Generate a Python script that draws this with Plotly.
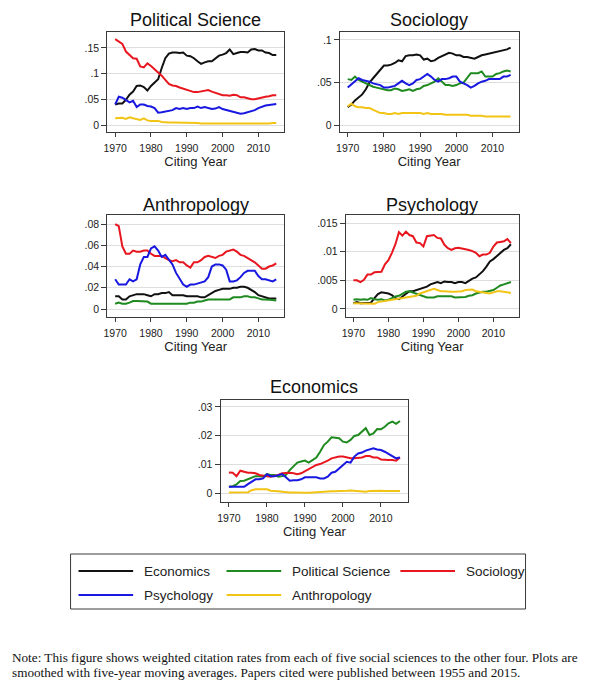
import plotly.graph_objects as go

W, H = 607, 680

years = list(range(1970, 2016))
x_ticks = [1970, 1980, 1990, 2000, 2010]

series_names = ["Economics", "Political Science", "Sociology", "Psychology", "Anthropology"]
series_colors = ["#111111", "#1f8a1f", "#e8161e", "#1818e0", "#f2c416"]

# ---- Political Science panel (citations to the other four) ----
ps_econ = [.040, .042, .042, .049, .059, .065, .076, .077, .074, .067,
           .076, .083, .089, .111, .130, .139, .141, .141, .140, .141,
           .135, .134, .130, .124, .119, .122, .124, .124, .130, .135,
           .137, .140, .147, .138, .140, .142, .142, .141, .147, .148,
           .145, .145, .141, .140, .136, .136]
ps_soc = [.167, .163, .158, .143, .137, .130, .129, .114, .112, .120,
          .115, .109, .102, .096, .088, .080, .077, .076, .073, .071,
          .068, .066, .064, .064, .065, .067, .068, .065, .063, .061,
          .058, .058, .057, .059, .058, .054, .054, .052, .050, .050,
          .052, .054, .055, .056, .058, .058]
ps_psy = [.040, .055, .053, .049, .044, .047, .035, .040, .040, .037,
          .036, .033, .024, .025, .026, .027, .029, .033, .031, .033,
          .031, .033, .033, .036, .033, .035, .033, .031, .032, .035,
          .031, .029, .028, .026, .023, .022, .023, .025, .026, .029,
          .033, .036, .038, .039, .040, .041]
ps_ant = [.013, .014, .014, .012, .015, .013, .011, .010, .013, .009,
          .008, .008, .008, .006, .005, .005, .005, .005, .004, .004,
          .004, .004, .004, .004, .003, .003, .003, .003, .003, .003,
          .003, .003, .003, .003, .002, .002, .002, .002, .002, .002,
          .002, .002, .003, .003, .004, .004]

# ---- Sociology panel ----
so_econ = [.021, .024, .029, .033, .036, .042, .050, .055, .060, .065,
           .070, .070, .071, .073, .076, .075, .081, .082, .082, .083,
           .082, .077, .078, .075, .076, .079, .081, .083, .085, .084,
           .082, .082, .080, .080, .079, .078, .080, .082, .083, .084,
           .085, .086, .087, .088, .089, .091]
so_pol = [.054, .053, .057, .053, .051, .049, .047, .045, .044, .043,
          .042, .041, .041, .043, .042, .040, .041, .042, .040, .042,
          .043, .046, .047, .049, .051, .055, .051, .047, .047, .046,
          .047, .049, .050, .055, .061, .061, .061, .063, .057, .057,
          .057, .060, .061, .063, .064, .063]
so_psy = [.044, .048, .052, .055, .053, .052, .051, .049, .048, .047,
          .044, .044, .045, .046, .049, .052, .049, .047, .049, .053,
          .054, .057, .060, .057, .053, .051, .054, .054, .055, .057,
          .057, .051, .049, .047, .044, .046, .049, .051, .052, .054,
          .054, .054, .054, .057, .057, .059]
so_ant = [.022, .025, .022, .021, .021, .020, .020, .018, .016, .014,
          .014, .013, .013, .014, .013, .014, .014, .014, .014, .014,
          .014, .013, .014, .013, .013, .013, .013, .012, .012, .012,
          .012, .012, .012, .012, .011, .011, .011, .011, .010, .010,
          .010, .010, .010, .010, .010, .010]

# ---- Anthropology panel ----
an_econ = [.012, .012, .009, .009, .012, .013, .014, .014, .014, .013,
           .012, .014, .014, .015, .015, .016, .013, .013, .013, .013,
           .012, .012, .012, .012, .011, .011, .013, .015, .017, .018,
           .019, .019, .019, .020, .020, .021, .021, .020, .018, .016,
           .013, .012, .011, .010, .010, .010]
an_pol = [.005, .006, .005, .005, .006, .0075, .0075, .0075, .0073, .007,
          .005, .005, .005, .005, .005, .0055, .005, .005, .0055, .005,
          .005, .006, .006, .007, .007, .008, .009, .009, .009, .009,
          .009, .0085, .009, .011, .011, .011, .012, .012, .011, .011,
          .010, .009, .009, .009, .0085, .008]
an_soc = [.080, .078, .059, .052, .052, .055, .054, .054, .055, .055,
          .052, .050, .050, .050, .048, .046, .045, .046, .044, .044,
          .041, .039, .044, .044, .046, .049, .050, .049, .048, .050,
          .051, .054, .055, .056, .054, .051, .050, .048, .046, .044,
          .041, .038, .038, .040, .041, .043]
an_psy = [.028, .023, .023, .023, .028, .026, .028, .042, .049, .049,
          .057, .059, .055, .049, .051, .047, .042, .034, .028, .023,
          .021, .023, .023, .024, .025, .026, .030, .040, .042, .042,
          .041, .037, .026, .026, .027, .030, .034, .036, .036, .036,
          .031, .028, .028, .027, .026, .028]

# ---- Psychology panel ----
py_econ = [.0010, .0012, .0010, .0010, .0011, .0011, .0019, .0026, .0029, .0028,
           .0027, .0024, .0019, .0017, .0022, .0027, .0031, .0031, .0033, .0035,
           .0036, .0039, .0043, .0045, .0047, .0045, .0048, .0047, .0047, .0045,
           .0047, .0047, .0045, .0049, .0053, .0055, .0060, .0066, .0074, .0083,
           .0087, .0092, .0098, .0103, .0106, .0113]
py_pol = [.0016, .0017, .0016, .0017, .0016, .0019, .0017, .0016, .0017, .0015,
          .0016, .0019, .0022, .0023, .0026, .0030, .0031, .0029, .0027, .0024,
          .0022, .0020, .0020, .0020, .0022, .0022, .0023, .0023, .0022, .0020,
          .0020, .0020, .0021, .0023, .0024, .0027, .0029, .0030, .0030, .0031,
          .0033, .0037, .0041, .0043, .0045, .0047]
py_soc = [.0050, .0050, .0047, .0051, .0060, .0060, .0064, .0064, .0065, .0078,
          .0085, .0098, .0113, .0134, .0128, .0135, .0129, .0127, .0116, .0115,
          .0109, .0127, .0128, .0129, .0124, .0123, .0112, .0106, .0103, .0106,
          .0107, .0106, .0105, .0103, .0101, .0098, .0092, .0095, .0095, .0098,
          .0109, .0116, .0117, .0118, .0122, .0115]
py_ant = [.0010, .0010, .0009, .0009, .0010, .0009, .0009, .0012, .0013, .0014,
          .0016, .0017, .0017, .0019, .0019, .0020, .0021, .0023, .0023, .0027,
          .0029, .0031, .0033, .0035, .0033, .0031, .0031, .0030, .0030, .0030,
          .0030, .0031, .0033, .0033, .0034, .0031, .0030, .0029, .0029, .0027,
          .0029, .0031, .0031, .0030, .0029, .0028]

# ---- Economics panel ----
ec_pol = [.0022, .0024, .0030, .0042, .0043, .0048, .0055, .0059, .0059, .0057,
          .0066, .0063, .0063, .0057, .0059, .0063, .0080, .0092, .0106, .0110,
          .0113, .0106, .0115, .0124, .0144, .0167, .0179, .0194, .0193, .0191,
          .0179, .0176, .0185, .0199, .0202, .0214, .0226, .0202, .0208, .0223,
          .0222, .0231, .0243, .0249, .0241, .0251]
ec_soc = [.0072, .0071, .0059, .0078, .0074, .0071, .0071, .0069, .0063, .0060,
          .0059, .0057, .0059, .0063, .0069, .0071, .0071, .0069, .0066, .0069,
          .0077, .0083, .0092, .0098, .0101, .0106, .0113, .0121, .0124, .0127,
          .0127, .0124, .0121, .0121, .0123, .0124, .0129, .0129, .0124, .0124,
          .0117, .0115, .0115, .0115, .0113, .0124]
ec_psy = [.0022, .0022, .0020, .0020, .0022, .0031, .0040, .0048, .0048, .0051,
          .0066, .0059, .0059, .0063, .0066, .0055, .0043, .0045, .0045, .0048,
          .0055, .0055, .0055, .0055, .0051, .0051, .0057, .0071, .0074, .0086,
          .0098, .0109, .0106, .0127, .0138, .0141, .0148, .0152, .0156, .0152,
          .0150, .0144, .0136, .0129, .0121, .0124]
ec_ant = [.0002, .0002, .0002, .0002, .0003, .0003, .0010, .0013, .0013, .0013,
          .0013, .0008, .0006, .0006, .0005, .0003, .0002, .0002, .0001, .0001,
          .0001, .0001, .0002, .0002, .0003, .0006, .0006, .0006, .0006, .0006,
          .0006, .0008, .0009, .0008, .0007, .0006, .0005, .0007, .0008, .0008,
          .0008, .0007, .0007, .0006, .0007, .0007]

# y tick values / labels per panel
ps_yticks, ps_ylabels = [0, .05, .1, .15], ["0", ".05", ".1", ".15"]
so_yticks, so_ylabels = [0, .05, .1], ["0", ".05", ".1"]
an_yticks, an_ylabels = [0, .02, .04, .06, .08], ["0", ".02", ".04", ".06", ".08"]
py_yticks, py_ylabels = [0, .005, .01, .015], ["0", ".005", ".01", ".015"]
ec_yticks, ec_ylabels = [0, .01, .02, .03], ["0", ".01", ".02", ".03"]

note_lines = [
    "Note: This figure shows weighted citation rates from each of five social sciences to the other four. Plots are",
    "smoothed with five-year moving averages. Papers cited were published between 1955 and 2015.",
]

# ---------------- layout helpers (pixel boxes -> paper) ----------------
def px_x(v):
    return v / W

def px_y(v):
    return 1 - v / H

panels = [
    dict(title="Political Science", box=(104, 282, 32, 132), yr=(-0.0136, 0.181),
         yt=ps_yticks, yl=ps_ylabels, title_y=20,
         data={"Economics": ps_econ, "Sociology": ps_soc, "Psychology": ps_psy, "Anthropology": ps_ant}),
    dict(title="Sociology", box=(338, 518, 32, 132), yr=(-0.0082, 0.1094),
         yt=so_yticks, yl=so_ylabels, title_y=20,
         data={"Economics": so_econ, "Political Science": so_pol, "Psychology": so_psy, "Anthropology": so_ant}),
    dict(title="Anthropology", box=(104, 282, 215, 317), yr=(-0.0075, 0.0885),
         yt=an_yticks, yl=an_ylabels, title_y=205,
         data={"Economics": an_econ, "Political Science": an_pol, "Sociology": an_soc, "Psychology": an_psy}),
    dict(title="Psychology", box=(344, 518, 215, 317), yr=(-0.0014, 0.0164),
         yt=py_yticks, yl=py_ylabels, title_y=205,
         data={"Economics": py_econ, "Political Science": py_pol, "Sociology": py_soc, "Anthropology": py_ant}),
    dict(title="Economics", box=(218, 407, 400, 502), yr=(-0.0031, 0.0324),
         yt=ec_yticks, yl=ec_ylabels, title_y=387,
         data={"Political Science": ec_pol, "Sociology": ec_soc, "Psychology": ec_psy, "Anthropology": ec_ant}),
]

FONT = "Liberation Sans, Arial, sans-serif"
FRAME = "#3a3a3a"
GRID = "#dedede"

fig = go.Figure()
annotations = []
shapes = []
layout_axes = {}

for i, p in enumerate(panels, start=1):
    xa = "x" if i == 1 else f"x{i}"
    ya = "y" if i == 1 else f"y{i}"
    for name, color in zip(series_names, series_colors):
        if name in p["data"]:
            fig.add_trace(go.Scatter(
                x=years, y=p["data"][name], mode="lines", name=name,
                line=dict(color=color, width=2), showlegend=False,
                xaxis=xa, yaxis=ya,
                hovertemplate=name + ": %{y}<extra>" + p["title"] + "</extra>",
            ))
    l, r, t, b = p["box"]
    xkey = "xaxis" if i == 1 else f"xaxis{i}"
    ykey = "yaxis" if i == 1 else f"yaxis{i}"
    layout_axes[xkey] = dict(
        domain=[px_x(l), px_x(r)], anchor=ya, range=[1967.8, 2017.2],
        tickvals=x_ticks, ticks="outside", ticklen=4, tickcolor=FRAME, tickwidth=1,
        ticklabelstandoff=2,
        showline=True, mirror=True, linecolor=FRAME, linewidth=1,
        showgrid=False, zeroline=False,
        tickfont=dict(family=FONT, size=10.5, color="#222"),
        title=dict(text="Citing Year", font=dict(family=FONT, size=13, color="#222"), standoff=0),
    )
    layout_axes[ykey] = dict(
        domain=[px_y(b), px_y(t)], anchor=xa, range=list(p["yr"]),
        tickvals=p["yt"], ticktext=p["yl"], ticks="outside", ticklen=5,
        tickcolor=FRAME, tickwidth=1,
        showline=True, mirror=True, linecolor=FRAME, linewidth=1,
        showgrid=True, gridcolor=GRID, gridwidth=1, zeroline=False,
        tickfont=dict(family=FONT, size=10.5, color="#222"),
    )
    annotations.append(dict(
        text=p["title"], x=px_x((l + r) / 2), y=px_y(p["title_y"]), xref="paper", yref="paper",
        xanchor="center", yanchor="middle", showarrow=False,
        font=dict(family=FONT, size=18, color="#111"),
    ))

# ---------------- legend box (drawn from the series lists) ----------------
leg_box = (67, 525, 554, 609)
leg_rows = [571, 595]
leg_cols = [75, 224, 399]
leg_line_len = 55
leg_text_gap = 9
shapes.append(dict(type="rect", xref="paper", yref="paper",
                   x0=px_x(leg_box[0]), x1=px_x(leg_box[1]),
                   y0=px_y(leg_box[3]), y1=px_y(leg_box[2]),
                   line=dict(color=FRAME, width=1), fillcolor="rgba(0,0,0,0)"))
for k, (name, color) in enumerate(zip(series_names, series_colors)):
    row, col = divmod(k, 3)
    x0 = leg_cols[col]
    yy = leg_rows[row]
    shapes.append(dict(type="line", xref="paper", yref="paper",
                       x0=px_x(x0), x1=px_x(x0 + leg_line_len), y0=px_y(yy), y1=px_y(yy),
                       line=dict(color=color, width=2)))
    annotations.append(dict(
        text=name, x=px_x(x0 + leg_line_len + leg_text_gap), y=px_y(yy),
        xref="paper", yref="paper", xanchor="left", yanchor="middle", showarrow=False,
        font=dict(family=FONT, size=13.5, color="#222"),
    ))

# ---------------- note ----------------
for j, line in enumerate(note_lines):
    annotations.append(dict(
        text=line, x=px_x(6), y=px_y(657 + 15 * j), xref="paper", yref="paper",
        xanchor="left", yanchor="middle", showarrow=False,
        font=dict(family="Liberation Serif, Times New Roman, serif", size=13.2, color="#111"),
    ))

fig.update_layout(
    width=W, height=H, autosize=False,
    margin=dict(l=0, r=0, t=0, b=0),
    paper_bgcolor="white", plot_bgcolor="white",
    showlegend=False,
    annotations=annotations, shapes=shapes,
    **layout_axes,
)

fig.write_html(
    "out.html",
    config={"displayModeBar": False},
    post_script="document.body.style.margin='0';document.body.style.padding='0';document.body.style.overflow='hidden';",
)
